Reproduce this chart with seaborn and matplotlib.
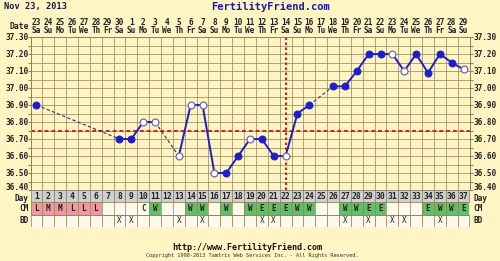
import numpy as np
import pandas as pd
import matplotlib
matplotlib.use("Agg")
import matplotlib.pyplot as plt
import seaborn as sns

# ---------------- data ----------------
cycle_days = list(range(1, 38))
dates = [23, 24, 25, 26, 27, 28, 29, 30] + list(range(1, 30))
weekdays = ["Sa", "Su", "Mo", "Tu", "We", "Th", "Fr"] * 6
weekdays = weekdays[:37]
temps = [36.90, np.nan, np.nan, np.nan, np.nan, np.nan, np.nan, 36.70, 36.70, 36.80,
         36.80, np.nan, 36.60, 36.90, 36.90, 36.50, 36.50, 36.60, 36.70, 36.70,
         36.60, 36.60, 36.85, 36.90, np.nan, 37.01, 37.01, 37.10, 37.20, 37.20,
         37.20, 37.10, 37.20, 37.09, 37.20, 37.15, 37.11]
open_days = [10, 11, 13, 14, 15, 16, 19, 22, 31, 32, 37]
cm = ["L", "M", "M", "L", "L", "L", "", "", "", "C", "W", "", "", "W", "W", "", "W", "",
      "W", "E", "E", "E", "W", "W", "", "", "W", "W", "E", "E", "", "", "", "E", "W", "W", "E"]
bd_days = [8, 9, 13, 15, 20, 21, 27, 29, 31, 32, 35]
coverline = 36.75
ovulation_day = 22
y_labels = [37.30, 37.20, 37.10, 37.00, 36.90, 36.80, 36.70, 36.60, 36.50, 36.40]
row_labels = ["Day", "CM", "BD"]

# ---------------- style ----------------
BG = "#FFF4C4"
GRID = "#8E8258"
BLUE = "#1E1ECC"
OPEN_EDGE = "#6A6AB8"
RED = "#CC2222"
PINK = "#F2979F"
GREEN = "#63BE66"
CELL = "#FFF9EC"
DAYROW = "#CFCFCF"
MONO = "DejaVu Sans Mono"
TXT = "#222222"

fig = plt.figure(figsize=(5.0, 2.61), dpi=100, facecolor=BG)
ax = fig.add_axes([0.061, 0.272, 0.878, 0.586], facecolor=BG)

ax.set_xlim(0.5, 37.5)
ax.set_ylim(36.40, 37.30)
ax.set_xticks(np.arange(0.5, 38, 1))
ax.set_yticks(np.round(np.arange(36.40, 37.301, 0.05), 2))
ax.grid(True, color=GRID, lw=0.5)
ax.set_axisbelow(True)
ax.tick_params(axis="x", length=0, labelbottom=False)
ax.tick_params(axis="y", length=2, color=GRID, labelleft=False, right=True)
for s in ax.spines.values():
    s.set_color(GRID)
    s.set_linewidth(0.7)

for v in y_labels:
    yv = v + 0.012 if v == min(y_labels) else v
    ax.text(-0.004, yv, f"{v:.2f}", transform=ax.get_yaxis_transform(), ha="right", va="center",
            fontsize=5.6, fontweight="bold", family=MONO, color=TXT)
    ax.text(1.008, yv, f"{v:.2f}", transform=ax.get_yaxis_transform(), ha="left", va="center",
            fontsize=5.6, fontweight="bold", family=MONO, color=TXT)

# coverline and ovulation line
ax.axhline(coverline, color=RED, lw=1.4, ls=(0, (2, 1.5)), zorder=2)
ax.axvline(ovulation_day, color=RED, lw=1.5, ls=(0, (1.2, 1.2)), zorder=2)

df = pd.DataFrame({"day": cycle_days, "temp": temps})
df["open"] = df["day"].isin(open_days)
valid = df.dropna(subset=["temp"]).reset_index(drop=True)
valid["run"] = (valid["day"].diff() != 1).cumsum()

for _, run in valid.groupby("run"):
    if len(run) > 1:
        sns.lineplot(data=run, x="day", y="temp", ax=ax, color=BLUE, lw=1.4,
                     estimator=None, sort=False, zorder=3)
for i in range(1, len(valid)):
    if valid.loc[i, "day"] - valid.loc[i - 1, "day"] > 1:
        pair = valid.loc[[i - 1, i]]
        sns.lineplot(data=pair, x="day", y="temp", ax=ax, color="#33335A", lw=0.8,
                     ls=(0, (3, 2)), estimator=None, sort=False, zorder=3)

filled = valid[~valid["open"]]
hollow = valid[valid["open"]]
sns.scatterplot(data=filled, x="day", y="temp", ax=ax, s=24, color=BLUE,
                edgecolor=BLUE, linewidth=0.8, zorder=4)
sns.scatterplot(data=hollow, x="day", y="temp", ax=ax, s=24, color="white",
                edgecolor=OPEN_EDGE, linewidth=0.9, zorder=4)
ax.set_xlabel("")
ax.set_ylabel("")

# header: dates and weekdays
xt = ax.get_xaxis_transform()
for d, dt, wd in zip(cycle_days, dates, weekdays):
    ax.text(d, 1.098, str(dt), transform=xt, ha="center", va="center", fontsize=5.6,
            fontweight="bold", family=MONO, color=TXT)
    ax.text(d, 1.043, wd, transform=xt, ha="center", va="center", fontsize=5.6,
            fontweight="bold", family=MONO, color=TXT)
ax.text(-0.004, 1.072, "Date", transform=ax.transAxes, ha="right", va="center", fontsize=5.8,
        fontweight="bold", family=MONO, color=TXT)

# ---------------- table ----------------
tax = fig.add_axes([0.061, 0.1303, 0.878, 0.1418], facecolor=BG)
tax.set_xlim(0.5, 37.5)
tax.set_ylim(3, 0)
tax.axis("off")

cm_colors = []
for c in cm:
    if c in ("L", "M"):
        cm_colors.append(PINK)
    elif c in ("W", "E"):
        cm_colors.append(GREEN)
    else:
        cm_colors.append(CELL)

tax.bar(cycle_days, 1, bottom=0, width=1, color=DAYROW, edgecolor="#8A8A7A", lw=0.6)
tax.bar(cycle_days, 1, bottom=1, width=1, color=cm_colors, edgecolor=cm_colors, lw=0.0)
tax.bar(cycle_days, 1, bottom=2, width=1, color=CELL, edgecolor=GRID, lw=0.5)
tax.vlines(np.arange(0.5, 38, 1), 1, 2, color=GRID, lw=0.5)
tax.hlines([1, 2, 3], 0.5, 37.5, color=GRID, lw=0.6)

for d in cycle_days:
    tax.text(d, 0.55, str(d), ha="center", va="center", fontsize=5.8, fontweight="bold",
             family=MONO, color=TXT)
for d, c in zip(cycle_days, cm):
    if c:
        tax.text(d, 1.52, c, ha="center", va="center", fontsize=5.5, fontweight="bold",
                 family=MONO, color=TXT)
for d in bd_days:
    tax.text(d, 2.5, "X", ha="center", va="center", fontsize=5.5, family=MONO, color=TXT)
for r, lab in enumerate(row_labels):
    yy = 1 - (r + 0.5) / 3 - (0.05 if r == 0 else 0)
    tax.text(-0.004, yy, lab, transform=tax.transAxes, ha="right", va="center",
             fontsize=5.6, fontweight="bold", family=MONO, color=TXT)
    tax.text(1.008, yy, lab, transform=tax.transAxes, ha="left", va="center",
             fontsize=5.6, fontweight="bold", family=MONO, color=TXT)

# ---------------- titles ----------------
fig.text(0.008, 1 - 7 / 261, "Nov 23, 2013", ha="left", va="center", fontsize=6.2,
         fontweight="bold", family=MONO, color="#1A1A40")
fig.text(0.54, 1 - 7 / 261, "FertilityFriend.com", ha="center", va="center", fontsize=7.5,
         fontweight="bold", family=MONO, color="#1A1AAA")
fig.text(0.495, 1 - 247 / 261, "http://www.FertilityFriend.com", ha="center", va="center",
         fontsize=6, fontweight="bold", family=MONO, color="#111111")
fig.text(0.505, 1 - 256 / 261,
         "Copyright 1998-2013 Tamtris Web Services Inc. - All Rights Reserved.",
         ha="center", va="center", fontsize=3.8, family=MONO, color="#333333")

fig.savefig("out.png", dpi=100, facecolor=BG)
